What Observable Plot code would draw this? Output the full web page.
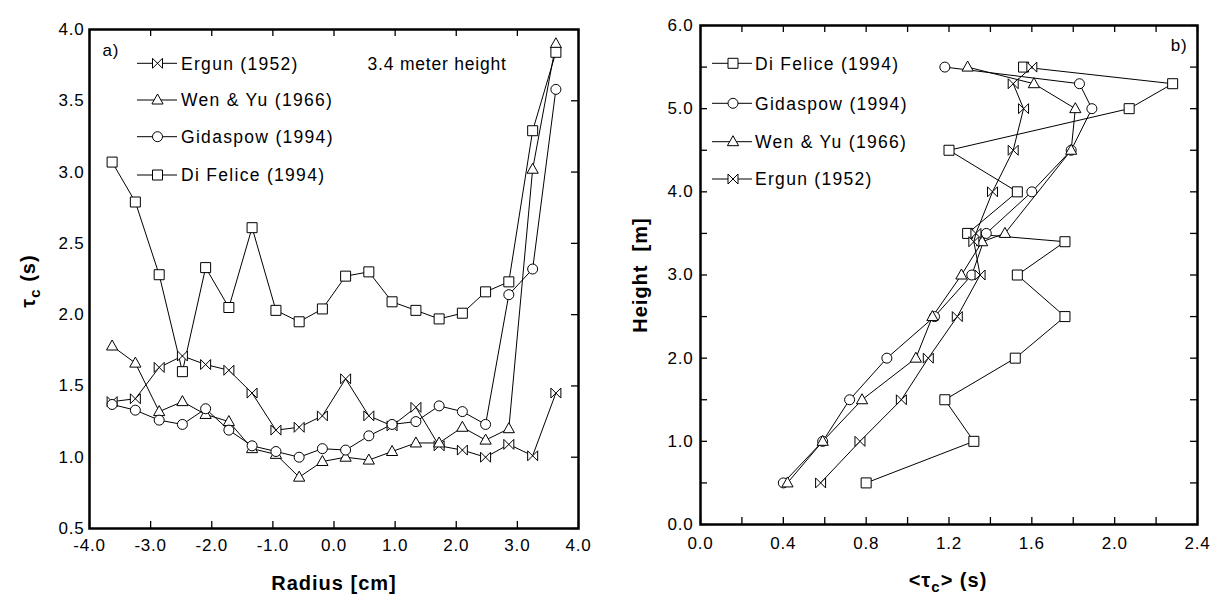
<!DOCTYPE html>
<html><head><meta charset="utf-8">
<script src="https://cdn.jsdelivr.net/npm/d3@7"></script>
<script src="https://cdn.jsdelivr.net/npm/@observablehq/plot@0.6"></script>
<style>
html,body{margin:0;padding:0;background:#fff;}
#wrap{position:relative;width:1211px;height:595px;overflow:hidden;background:#fff;}
#a,#b{position:absolute;top:0;}
#a{left:0;} #b{left:606px;}
svg text{font-family:"Liberation Sans",Arial,sans-serif;}
</style></head><body><div id="wrap"><div id="a"></div><div id="b"></div></div>
<script>
// ---------- Panel a) : tau_c vs radius at 3.4 m ----------
const radius = [-3.63,-3.25,-2.86,-2.48,-2.10,-1.72,-1.34,-0.95,-0.57,-0.19,0.19,0.57,0.95,1.34,1.72,2.10,2.48,2.86,3.25,3.63];
const ergunA    = [1.39,1.41,1.63,1.71,1.65,1.61,1.45,1.19,1.21,1.29,1.55,1.29,1.22,1.35,1.08,1.05,1.00,1.09,1.01,1.45];
const wenYuA    = [1.78,1.66,1.32,1.39,1.30,1.25,1.06,1.02,0.86,0.97,1.00,0.98,1.04,1.10,1.10,1.21,1.12,1.20,3.02,3.90];
const gidaspowA = [1.37,1.33,1.26,1.23,1.34,1.19,1.08,1.04,1.00,1.06,1.05,1.15,1.23,1.25,1.36,1.32,1.23,2.14,2.32,3.58];
const diFeliceA = [3.07,2.79,2.28,1.60,2.33,2.05,2.61,2.03,1.95,2.04,2.27,2.30,2.09,2.03,1.97,2.01,2.16,2.23,3.29,3.84];
const xTicksA = [-4,-3,-2,-1,0,1,2,3,4];
const yTicksA = [0.5,1.0,1.5,2.0,2.5,3.0,3.5,4.0];

// ---------- Panel b) : mean tau_c vs height ----------
const hDiFelice   = [0.5,1.0,1.5,2.0,2.5,3.0,3.4,3.5,4.0,4.5,5.0,5.3,5.5];
const tauDiFelice = [0.80,1.32,1.18,1.52,1.76,1.53,1.76,1.29,1.53,1.20,2.07,2.28,1.56];
const hGidaspow   = [0.5,1.0,1.5,2.0,2.5,3.0,3.5,4.0,4.5,5.0,5.3,5.5];
const tauGidaspow = [0.40,0.59,0.72,0.90,1.13,1.31,1.38,1.60,1.79,1.89,1.83,1.18];
const hWenYu      = [0.5,1.0,1.5,2.0,2.5,3.0,3.4,3.5,4.5,5.0,5.3,5.5];
const tauWenYu    = [0.42,0.59,0.78,1.04,1.12,1.26,1.36,1.47,1.79,1.81,1.61,1.29];
const hErgun      = [0.5,1.0,1.5,2.0,2.5,3.0,3.4,3.5,4.0,4.5,5.0,5.3,5.5];
const tauErgun    = [0.58,0.77,0.97,1.10,1.24,1.35,1.32,1.33,1.41,1.51,1.56,1.51,1.60];
const xLabelsB = [0,0.4,0.8,1.2,1.6,2.0,2.4];
const xTicksB  = [0,0.2,0.4,0.6,0.8,1.0,1.2,1.4,1.6,1.8,2.0,2.2,2.4];
const yLabelsB = [0,1,2,3,4,5,6];
const yTicksB  = [0,0.5,1,1.5,2,2.5,3,3.5,4,4.5,5,5.5,6];

const namesA = ["Ergun (1952)","Wen & Yu (1966)","Gidaspow (1994)","Di Felice (1994)"];
const namesB = ["Di Felice (1994)","Gidaspow (1994)","Wen & Yu (1966)","Ergun (1952)"];

// marker shapes
const SYM = {
  square:{draw(c){c.moveTo(-5,-5);c.lineTo(5,-5);c.lineTo(5,5);c.lineTo(-5,5);c.closePath();}},
  circle:{draw(c){c.moveTo(5,0);c.arc(0,0,5,0,2*Math.PI);c.closePath();}},
  triangle:{draw(c){c.moveTo(0,-6);c.lineTo(5.6,4);c.lineTo(-5.6,4);c.closePath();}},
  bowtie:{draw(c){c.moveTo(-5,-5);c.lineTo(5,5);c.lineTo(5,-5);c.lineTo(-5,5);c.closePath();}}
};
const symOf = {"Ergun (1952)":SYM.bowtie,"Wen & Yu (1966)":SYM.triangle,"Gidaspow (1994)":SYM.circle,"Di Felice (1994)":SYM.square};

const fmt = d => d.toFixed(1);
const FONT = "'Liberation Sans',Arial,sans-serif";

// build tables
const seriesA = [[namesA[0],ergunA],[namesA[1],wenYuA],[namesA[2],gidaspowA],[namesA[3],diFeliceA]];
const rowsA = seriesA.flatMap(([n,v]) => v.map((y,i)=>({series:n,x:radius[i],y})));
const seriesB = [[namesB[0],hDiFelice,tauDiFelice],[namesB[1],hGidaspow,tauGidaspow],[namesB[2],hWenYu,tauWenYu],[namesB[3],hErgun,tauErgun]];
const rowsB = seriesB.flatMap(([n,h,t]) => h.map((y,i)=>({series:n,x:t[i],y})));

function dotsFor(rows, names){
  return names.map(n => Plot.dot(rows.filter(r=>r.series===n),{x:"x",y:"y",symbol:symOf[n],r:5,fill:"white",stroke:"black",strokeWidth:1}));
}

// ---------- plot a ----------
const WA=605,HA=595, mA={t:29,r:27,b:67,l:89};
const fwA=WA-mA.l-mA.r, fhA=HA-mA.t-mA.b;
const plotA = Plot.plot({
  width:WA,height:HA,marginTop:mA.t,marginRight:mA.r,marginBottom:mA.b,marginLeft:mA.l,
  style:{fontFamily:FONT,fontSize:"17px",color:"black",background:"white",letterSpacing:"0.8px"},
  x:{domain:[-4,4]}, y:{domain:[0.5,4]},
  marks:[
    Plot.axisX({ticks:xTicksA,tickSize:0,tickPadding:10,tickFormat:fmt,label:null}),
    Plot.axisY({ticks:yTicksA,tickSize:0,tickPadding:5,tickFormat:fmt,label:null}),
    Plot.tickX(xTicksA,{x:d=>d,insetTop:fhA-7,stroke:"black",strokeWidth:1.3}),
    Plot.tickX(xTicksA,{x:d=>d,insetBottom:fhA-7,stroke:"black",strokeWidth:1.3}),
    Plot.tickY(yTicksA,{y:d=>d,insetLeft:fwA-7,stroke:"black",strokeWidth:1.3}),
    Plot.line(rowsA,{x:"x",y:"y",z:"series",stroke:"black",strokeWidth:1}),
    ...dotsFor(rowsA,namesA),
    Plot.frame({stroke:"black",strokeWidth:2.5}),
    Plot.text(["a)"],{frameAnchor:"top-left",dx:13,dy:14,lineAnchor:"top",textAnchor:"start",fontSize:17}),
    Plot.text(["3.4 meter height"],{frameAnchor:"top-left",dx:278,dy:28,lineAnchor:"top",textAnchor:"start",fontSize:17.5,letterSpacing:"1.3px"})
  ]
});
document.getElementById("a").appendChild(plotA);

// ---------- plot b ----------
const WB=605,HB=595, mB={t:25,r:14,b:71,l:94};
const fwB=WB-mB.l-mB.r, fhB=HB-mB.t-mB.b;
const plotB = Plot.plot({
  width:WB,height:HB,marginTop:mB.t,marginRight:mB.r,marginBottom:mB.b,marginLeft:mB.l,
  style:{fontFamily:FONT,fontSize:"17px",color:"black",background:"white",letterSpacing:"0.8px"},
  x:{domain:[0,2.4]}, y:{domain:[0,6]},
  marks:[
    Plot.axisX({ticks:xLabelsB,tickSize:0,tickPadding:12,tickFormat:fmt,label:null}),
    Plot.axisY({ticks:yLabelsB,tickSize:0,tickPadding:7,tickFormat:fmt,label:null}),
    Plot.tickX(xTicksB,{x:d=>d,insetTop:fhB-7,stroke:"black",strokeWidth:1.3}),
    Plot.tickX(xTicksB,{x:d=>d,insetBottom:fhB-7,stroke:"black",strokeWidth:1.3}),
    Plot.tickY(yTicksB,{y:d=>d,insetRight:fwB-7,stroke:"black",strokeWidth:1.3}),
    Plot.tickY(yTicksB,{y:d=>d,insetLeft:fwB-7,stroke:"black",strokeWidth:1.3}),
    Plot.line(rowsB,{x:"x",y:"y",z:"series",stroke:"black",strokeWidth:1}),
    ...dotsFor(rowsB,namesB),
    Plot.frame({stroke:"black",strokeWidth:2.5}),
    Plot.text(["b)"],{frameAnchor:"top-right",dx:-10,dy:13,lineAnchor:"top",textAnchor:"end",fontSize:17})
  ]
});
document.getElementById("b").appendChild(plotB);

// ---------- legends & axis titles ----------
function legend(svgNode, names, rows, x1, x2, xm, xt){
  const g = d3.select(svgNode).append("g");
  names.forEach((n,i)=>{
    const y = rows[i];
    g.append("line").attr("x1",x1).attr("x2",x2).attr("y1",y).attr("y2",y).attr("stroke","black").attr("stroke-width",1);
    const p = d3.path(); symOf[n].draw(p);
    g.append("path").attr("d",p.toString()).attr("transform",`translate(${xm},${y})`)
      .attr("fill","white").attr("stroke","black").attr("stroke-width",1);
    g.append("text").attr("x",xt).attr("y",y+6.3).attr("text-anchor","start").attr("font-size",17.5)
      .attr("letter-spacing","1.3px").attr("fill","black").text(n);
  });
}
legend(plotA, namesA, [63.3,100,136.7,175], 137, 177, 157.5, 181);
legend(plotB, namesB, [63.3,103.3,141.7,179], 106, 146, 127, 149);

const sa = d3.select(plotA);
sa.append("text").attr("x",334).attr("y",590).attr("text-anchor","middle").attr("font-weight","bold")
  .attr("font-size",20).attr("letter-spacing","1px").text("Radius [cm]");
const ta = sa.append("text").attr("transform","translate(35,281) rotate(-90)").attr("text-anchor","middle")
  .attr("font-weight","bold").attr("font-size",20).attr("letter-spacing","1px");
ta.append("tspan").text("τ");
ta.append("tspan").attr("dy",5).attr("font-size",15).text("c");
ta.append("tspan").attr("dy",-5).text(" (s)");

const sb = d3.select(plotB);
const tb = sb.append("text").attr("x",342).attr("y",587).attr("text-anchor","middle").attr("font-weight","bold")
  .attr("font-size",20).attr("letter-spacing","1px");
tb.append("tspan").text("<τ");
tb.append("tspan").attr("dy",5).attr("font-size",15).text("c");
tb.append("tspan").attr("dy",-5).text("> (s)");
sb.append("text").attr("transform","translate(41,275) rotate(-90)").attr("text-anchor","middle")
  .attr("font-weight","bold").attr("font-size",20).attr("letter-spacing","1px")
  .style("white-space","pre").text("Height  [m]");
</script>
</body></html>
